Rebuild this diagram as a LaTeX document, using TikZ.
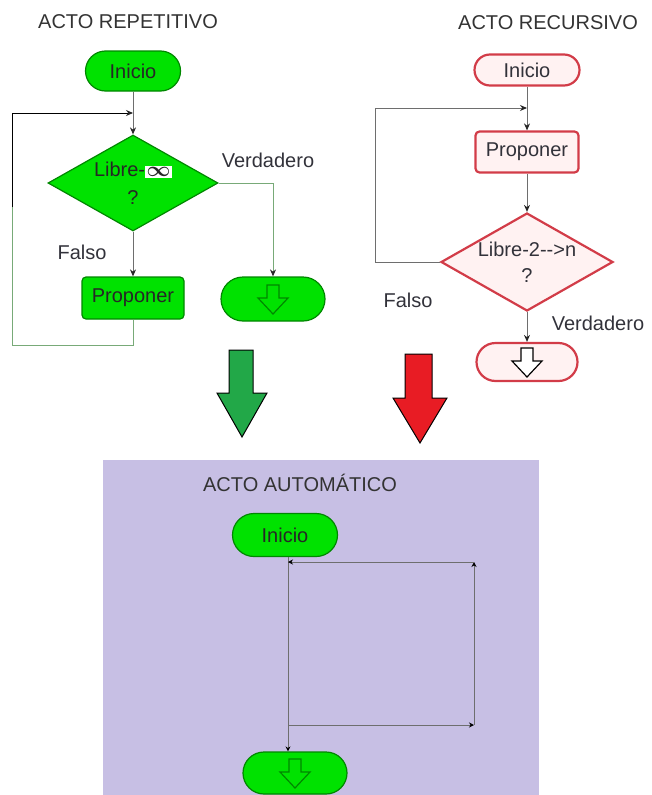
\documentclass[tikz,border=0pt]{standalone}
\usepackage{amsmath}
\usepackage{fontspec}
\setmainfont{Liberation Sans}
\usepackage{xcolor}
\usepackage{tikz}
\usetikzlibrary{arrows, arrows.meta, shapes.geometric}

\definecolor{verde}{RGB}{0,226,0}
\definecolor{verdeborde}{RGB}{0,135,0}
\definecolor{verdelinea}{RGB}{120,170,120}
\definecolor{verdeflecha}{RGB}{34,168,72}
\definecolor{rojoborde}{RGB}{210,60,72}
\definecolor{rojoflecha}{RGB}{232,28,36}
\definecolor{lavanda}{RGB}{199,191,228}
\definecolor{linea}{RGB}{110,110,110}
\definecolor{texto}{RGB}{50,50,58}

\tikzset{
	txt/.style={font=\fontsize{20}{24}\selectfont, text=texto},
	verdenodo/.style={txt, text=black!85, draw=verdeborde, line width=1.2pt, fill=verde},
	rojonodo/.style={txt, draw=rojoborde, line width=2.2pt, fill=red!5},
	terminal/.style={rectangle, rounded corners=#1/2, minimum height=#1, inner sep=0pt},
	proceso/.style={rectangle, rounded corners=4pt, inner sep=0pt},
	decision/.style={diamond, aspect=1.8, inner sep=0pt, align=center},
	flujo/.style={draw=linea, line width=1pt, -{Stealth[length=7pt,width=6pt,color=black!85]}},
	puntita/.style={-{Stealth[length=5pt,width=5pt,color=black]}},
}

\begin{document}
\begin{tikzpicture}[x=1pt, y=-1pt]
	\useasboundingbox (0,0) rectangle (651,795);

	% acto repetitivo
	\node[txt, text=black!80] (tituloRep) at (128,22) {ACTO REPETITIVO};
	\node[verdenodo, terminal=40pt, minimum width=95pt] (inicioRep) at (133,71) {Inicio};
	\node[verdenodo, decision, minimum width=170pt, minimum height=96pt] (decRep) at (133,183)
		{Libre-{\fboxsep=1.5pt\colorbox{white}{$\boldsymbol\infty$}}\\[4pt]?};
	\node[verdenodo, proceso, minimum width=102pt, minimum height=42pt] (propRep) at (133,298) {Proponer};
	\node[verdenodo, terminal=44pt, minimum width=104pt] (finRep) at (273,299) {};
	\node[txt] (verdRep) at (268,160) {Verdadero};
	\node[txt] (falsoRep) at (82,252) {Falso};
	\coordinate (entRep) at (133,113);
	\coordinate (esqRep) at (12,345);
	\coordinate (medRep) at (12,207);

	\draw[flujo] (inicioRep) -- (decRep);
	\draw[flujo] (decRep) -- (propRep);
	\draw[flujo, draw=verdelinea] (decRep.east) -| (finRep.north);
	\draw[draw=verdelinea, line width=1pt] (propRep.south) |- (esqRep) -- (medRep);
	\draw[flujo, draw=black] (medRep) |- (entRep);

	% acto recursivo
	\node[txt, text=black!80] (tituloRec) at (548,23) {ACTO RECURSIVO};
	\node[rojonodo, terminal=31pt, minimum width=105pt] (inicioRec) at (527,70) {Inicio};
	\node[rojonodo, proceso, minimum width=103pt, minimum height=41pt] (propRec) at (527,152) {Proponer};
	\node[rojonodo, decision, minimum width=172pt, minimum height=98pt] (decRec) at (527,262)
		{Libre-2-{}-{}>n\\[2pt]?};
	\node[rojonodo, terminal=38pt, minimum width=101pt] (finRec) at (527,362) {};
	\node[txt] (falsoRec) at (408,300) {Falso};
	\node[txt] (verdRec) at (598,323) {Verdadero};
	\coordinate (entRec) at (527,108);
	\coordinate (esqRec) at (375,262);

	\draw[flujo] (inicioRec) -- (propRec);
	\draw[flujo] (propRec) -- (decRec);
	\draw[flujo] (decRec) -- (finRec);
	\draw[flujo] (decRec.west) -- (esqRec) |- (entRec);

	% flechas grandes
	\draw[fill=verdeflecha, line width=1pt] (229,350) -- (253,350) -- (253,393) -- (267,393)
		-- (242,437) -- (217,393) -- (229,393) -- cycle;
	\draw[fill=rojoflecha, line width=1pt] (405,354) -- (432,354) -- (432,398) -- (447,398)
		-- (420,443) -- (393,398) -- (405,398) -- cycle;

	% acto automatico
	\fill[lavanda] (103,460) rectangle (539,795);
	\node[txt, text=black!80] (tituloAut) at (300,483) {ACTO AUTOMÁTICO};
	\node[verdenodo, terminal=43pt, minimum width=105pt] (inicioAut) at (285,535) {Inicio};
	\node[verdenodo, terminal=42pt, minimum width=104pt] (finAut) at (295,773) {};
	\coordinate (c1) at (288,562);
	\coordinate (c2) at (474,562);
	\coordinate (c3) at (474,725);
	\coordinate (c4) at (288,725);

	\draw[draw=linea, line width=1pt, puntita] (inicioAut.south -| c1) -- (finAut.north -| c1);
	\draw[draw=linea, line width=1pt, puntita] (c4) -- (c3);
	\draw[draw=linea, line width=1pt, puntita] (c3) -- (c2);
	\draw[draw=linea, line width=1pt, puntita] (c2) -- (c1);

	% flechas huecas de fin
	\foreach \n/\borde/\relleno in {finRep/verdeborde/verde, finRec/black/white, finAut/verdeborde/verde}
	{
		\draw[draw=\borde, fill=\relleno, line width=1.2pt] ([shift={(-6,-14)}]\n.center) -- ++(12,0)
			-- ++(0,13) -- ++(9,0) -- ++(-15,16) -- ++(-15,-16) -- ++(9,0) -- cycle;
	}
\end{tikzpicture}
\end{document}
